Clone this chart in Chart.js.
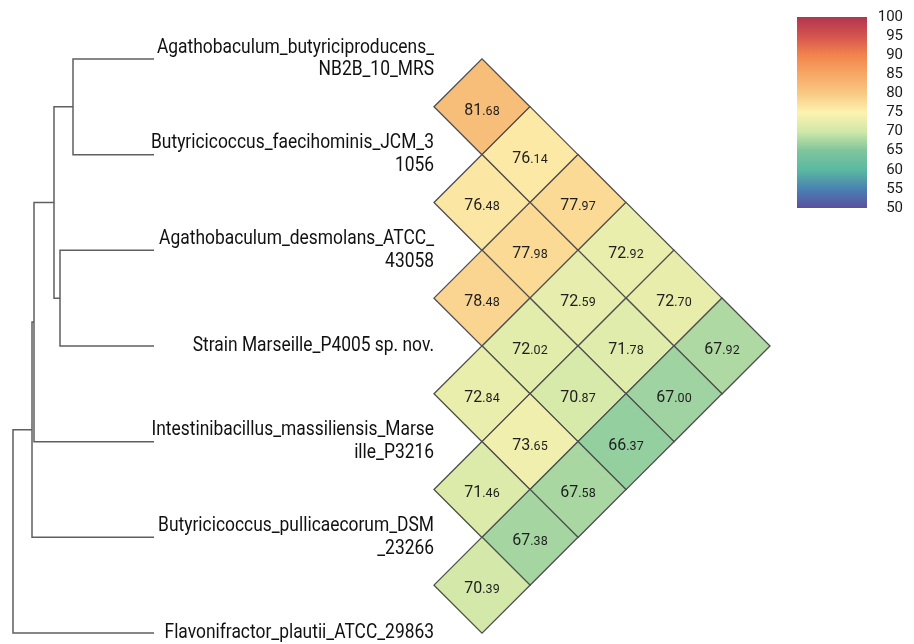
<!DOCTYPE html>
<html>
<head>
<meta charset="utf-8">
<title>ANI heatmap</title>
<script src="https://cdn.jsdelivr.net/npm/chart.js@4.4.1/dist/chart.umd.min.js"></script>
<style>
  html, body { margin: 0; padding: 0; background: #fff; }
  #wrap { width: 914px; height: 644px; }
</style>
</head>
<body>
<div id="wrap"><canvas id="aniChart"></canvas></div>
<script>
// leaf labels, top to bottom (each entry = the lines of the label)
const strains = [
  ['Agathobaculum_butyriciproducens_', 'NB2B_10_MRS'],
  ['Butyricicoccus_faecihominis_JCM_3', '1056'],
  ['Agathobaculum_desmolans_ATCC_', '43058'],
  ['Strain Marseille_P4005 sp. nov.'],
  ['Intestinibacillus_massiliensis_Marse', 'ille_P3216'],
  ['Butyricicoccus_pullicaecorum_DSM', '_23266'],
  ['Flavonifractor_plautii_ATCC_29863']
];

// upper triangle of the ANI matrix (%): row i holds the pairs (i,i+1), (i,i+2), ...
const aniRows = [
  [81.68, 76.14, 77.97, 72.92, 72.70, 67.92],
  [76.48, 77.98, 72.59, 71.78, 67.00],
  [78.48, 72.02, 70.87, 66.37],
  [72.84, 73.65, 67.58],
  [71.46, 67.38],
  [70.39]
];

// dendrogram: clusters merged (leaves 0-6, new nodes get 7, 8, ...) and merge heights
const treeMerges = [[0, 1], [2, 3], [7, 8], [9, 4], [10, 5], [11, 6]];
const treeHeights = [0.081, 0.094, 0.100, 0.120, 0.122, 0.141];

// colour key
const keyTicks = [100, 95, 90, 85, 80, 75, 70, 65, 60, 55, 50];
const keyColors = ['#b2344f', '#d5544e', '#f2844d', '#f6a865', '#f8c983', '#fdf2b0',
                   '#d0e8a8', '#7ec59c', '#5bb9a2', '#4a82b3', '#5c4f9f'];

function hexToRgb(h) {
  return [parseInt(h.slice(1, 3), 16), parseInt(h.slice(3, 5), 16), parseInt(h.slice(5, 7), 16)];
}

// linear interpolation in the key
function colorFor(v) {
  for (let k = 0; k < keyTicks.length - 1; k++) {
    const hi = keyTicks[k], lo = keyTicks[k + 1];
    if (v <= hi && v >= lo) {
      const t = (hi - v) / (hi - lo);
      const a = hexToRgb(keyColors[k]), b = hexToRgb(keyColors[k + 1]);
      const c = a.map((x, n) => Math.round(x + (b[n] - x) * t));
      return 'rgb(' + c.join(',') + ')';
    }
  }
  return v > keyTicks[0] ? keyColors[0] : keyColors[keyColors.length - 1];
}

// heatmap cells: x = distance j-i, y = i+j (leaf k sits at y = 2k)
const cells = [];
aniRows.forEach((row, i) => {
  row.forEach((v, k) => {
    const j = i + 1 + k;
    cells.push({ x: j - i, y: i + j, v: v });
  });
});

// dendrogram branches as U shapes
const nodeY = strains.map((s, k) => 2 * k);
const nodeH = strains.map(() => 0);
const treeSets = treeMerges.map((m, n) => {
  const [a, b] = m;
  const h = treeHeights[n];
  const ya = nodeY[a], yb = nodeY[b];
  nodeY.push((ya + yb) / 2);
  nodeH.push(h);
  return {
    type: 'scatter',
    xAxisID: 'xd',
    yAxisID: 'y',
    showLine: true,
    data: [{ x: nodeH[a], y: ya }, { x: h, y: ya }, { x: h, y: yb }, { x: nodeH[b], y: yb }],
    borderColor: '#5f5f5f',
    borderWidth: 1.5,
    pointRadius: 0,
    tension: 0,
    borderJoinStyle: 'miter'
  };
});

function squeezed(ctx, str, x, y, sx) {
  ctx.save();
  ctx.translate(x, y);
  ctx.scale(sx, 1);
  ctx.fillText(str, 0, 0);
  ctx.restore();
}

const overlay = {
  id: 'overlay',
  afterDatasetsDraw(chart) {
    const ctx = chart.ctx;
    const sx = chart.scales.x, sy = chart.scales.y, sk = chart.scales.yk;

    // leaf labels, right aligned against the heatmap
    const right = sx.getPixelForValue(0);
    ctx.save();
    ctx.fillStyle = '#111';
    ctx.font = '20px Roboto';
    ctx.textAlign = 'right';
    ctx.textBaseline = 'middle';
    strains.forEach((lines, k) => {
      const yc = sy.getPixelForValue(2 * k);
      lines.forEach((t, n) => {
        const y = yc + (n - (lines.length - 1) / 2) * 22.5;
        squeezed(ctx, t, right, y, 0.87);
      });
    });
    ctx.restore();

    // cell values, decimals in a smaller size
    const meta = chart.getDatasetMeta(chart.data.datasets.length - 1);
    ctx.save();
    ctx.fillStyle = '#1e1e1e';
    ctx.textAlign = 'left';
    ctx.textBaseline = 'alphabetic';
    meta.data.forEach((pt, n) => {
      const txt = cells[n].v.toFixed(2);
      const whole = txt.slice(0, txt.indexOf('.'));
      const dec = txt.slice(txt.indexOf('.'));
      ctx.font = '16px Roboto';
      const w1 = ctx.measureText(whole).width;
      ctx.font = '12.5px Roboto';
      const w2 = ctx.measureText(dec).width;
      const x0 = pt.x - (w1 + w2) / 2;
      const base = pt.y + 8;
      ctx.font = '16px Roboto';
      ctx.fillText(whole, x0, base);
      ctx.font = '12.5px Roboto';
      ctx.fillText(dec, x0 + w1, base);
    });
    ctx.restore();

    // colour key
    const top = sk.getPixelForValue(keyTicks[0]);
    const bottom = sk.getPixelForValue(keyTicks[keyTicks.length - 1]);
    const grad = ctx.createLinearGradient(0, top, 0, bottom);
    keyTicks.forEach((t, k) => grad.addColorStop(k / (keyTicks.length - 1), keyColors[k]));
    ctx.save();
    ctx.fillStyle = grad;
    ctx.fillRect(797, top, 70, bottom - top);
    ctx.fillStyle = '#1a1a1a';
    ctx.font = '15px Roboto';
    ctx.textAlign = 'right';
    ctx.textBaseline = 'middle';
    keyTicks.forEach(t => ctx.fillText(String(t), 903, sk.getPixelForValue(t)));
    ctx.restore();
  }
};

new Chart(document.getElementById('aniChart'), {
  type: 'scatter',
  data: {
    datasets: treeSets.concat([{
      type: 'scatter',
      xAxisID: 'x',
      yAxisID: 'y',
      data: cells,
      pointStyle: 'rectRot',
      pointRadius: c => {
        const s = c.chart.scales.x;
        return Math.abs(s.getPixelForValue(1) - s.getPixelForValue(0));
      },
      backgroundColor: c => colorFor(c.raw ? c.raw.v : 75),
      borderColor: '#4d4d4d',
      borderWidth: 1.3
    }])
  },
  options: {
    responsive: true,
    maintainAspectRatio: false,
    animation: false,
    events: [],
    layout: { padding: 0 },
    plugins: { legend: { display: false }, tooltip: { enabled: false } },
    scales: {
      x: { type: 'linear', display: false, min: -434 / 48, max: 10 },
      xd: { type: 'linear', display: false, reverse: true, min: -0.76, max: 0.154 },
      y: { type: 'linear', display: false, reverse: true, min: -59 / 47.83, max: 585 / 47.83 },
      yk: { type: 'linear', display: false, min: 100 - 627 / 3.82, max: 100 + 17 / 3.82 }
    }
  },
  plugins: [overlay]
});
</script>
</body>
</html>
